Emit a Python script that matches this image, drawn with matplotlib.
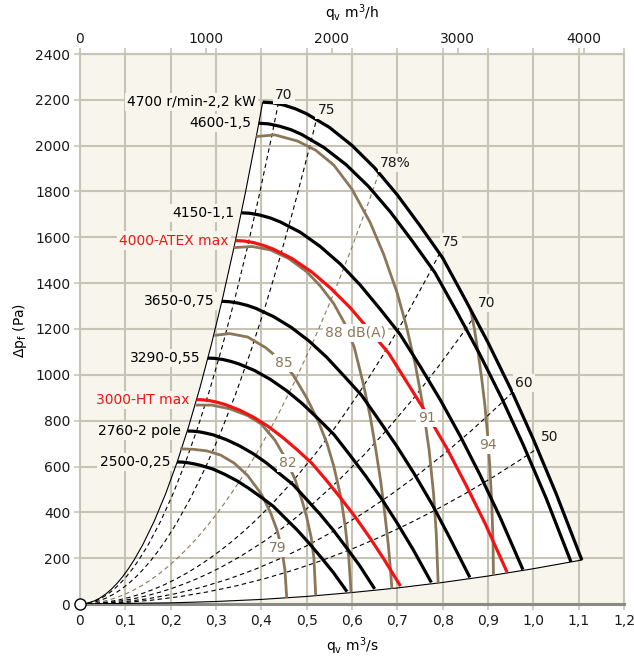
import matplotlib
matplotlib.use("Agg")
import matplotlib.pyplot as plt
from matplotlib.path import Path
from matplotlib.patches import PathPatch

plt.rcParams["font.family"] = ["DejaVu Sans"]
plt.rcParams["mathtext.default"] = "regular"

BG = "#f8f5ed"
GRID = "#c8c4b5"
BROWN = "#8b7758"
RED = "#f01414"

# ---- fan curves: q (m3/s), dp (Pa) ----
fan_names = ["4700 r/min-2,2 kW", "4600-1,5", "4150-1,1", "4000-ATEX max", "3650-0,75",
             "3290-0,55", "3000-HT max", "2760-2 pole", "2500-0,25"]
fan_red = [False, False, False, True, False, False, True, False, False]

q4700 = [0.403, 0.425, 0.45, 0.475, 0.50, 0.55, 0.60, 0.65, 0.70, 0.75, 0.80, 0.85, 0.90, 0.95, 1.00, 1.05, 1.107]
p4700 = [2190, 2187, 2177, 2161, 2139, 2080, 2001, 1903, 1785, 1651, 1510, 1328, 1141, 939, 719, 483, 192]
q4600 = [0.394, 0.416, 0.44, 0.465, 0.489, 0.538, 0.587, 0.636, 0.685, 0.734, 0.783, 0.832, 0.881, 0.93, 0.979, 1.028, 1.083]
p4600 = [2098, 2095, 2085, 2070, 2049, 1992, 1917, 1823, 1710, 1581, 1446, 1272, 1093, 899, 689, 463, 184]
q4150 = [0.356, 0.375, 0.397, 0.419, 0.441, 0.486, 0.530, 0.574, 0.618, 0.662, 0.706, 0.751, 0.795, 0.839, 0.883, 0.927, 0.977]
p4150 = [1707, 1705, 1697, 1685, 1668, 1622, 1560, 1484, 1392, 1287, 1177, 1035, 890, 732, 561, 377, 150]
q4000 = [0.343, 0.362, 0.383, 0.404, 0.426, 0.468, 0.511, 0.553, 0.596, 0.638, 0.681, 0.723, 0.766, 0.809, 0.851, 0.894, 0.942]
p4000 = [1586, 1584, 1577, 1565, 1549, 1507, 1449, 1378, 1293, 1196, 1094, 962, 826, 680, 521, 350, 139]
q3650 = [0.313, 0.330, 0.349, 0.369, 0.388, 0.427, 0.466, 0.505, 0.544, 0.582, 0.621, 0.660, 0.699, 0.738, 0.777, 0.815, 0.860]
p3650 = [1321, 1319, 1313, 1303, 1290, 1254, 1207, 1148, 1077, 996, 911, 801, 688, 566, 434, 291, 116]
q3290 = [0.282, 0.297, 0.315, 0.332, 0.35, 0.385, 0.42, 0.455, 0.49, 0.525, 0.56, 0.595, 0.63, 0.665, 0.7, 0.735, 0.775]
p3290 = [1073, 1072, 1067, 1059, 1048, 1019, 980, 932, 875, 809, 740, 651, 559, 460, 352, 237, 94]
q3000 = [0.257, 0.271, 0.287, 0.303, 0.319, 0.351, 0.383, 0.415, 0.447, 0.479, 0.511, 0.543, 0.574, 0.606, 0.638, 0.67, 0.707]
p3000 = [892, 891, 887, 880, 871, 847, 815, 775, 727, 673, 615, 541, 465, 383, 293, 197, 78]
q2760 = [0.237, 0.25, 0.264, 0.279, 0.294, 0.323, 0.352, 0.382, 0.411, 0.44, 0.47, 0.499, 0.529, 0.558, 0.587, 0.617, 0.65]
p2760 = [755, 754, 751, 745, 738, 717, 690, 656, 616, 569, 521, 458, 393, 324, 248, 167, 66]
q2500 = [0.214, 0.226, 0.239, 0.253, 0.266, 0.293, 0.319, 0.346, 0.372, 0.399, 0.426, 0.452, 0.479, 0.505, 0.532, 0.559, 0.589]
p2500 = [620, 619, 616, 611, 605, 589, 566, 538, 505, 467, 427, 376, 323, 266, 203, 137, 54]
fan_q = [q4700, q4600, q4150, q4000, q3650, q3290, q3000, q2760, q2500]
fan_p = [p4700, p4600, p4150, p4000, p3650, p3290, p3000, p2760, p2500]

# ---- sound level curves dB(A) ----
s79_q = [0.221, 0.25, 0.28, 0.31, 0.34, 0.37, 0.40, 0.42, 0.435, 0.445, 0.452, 0.456]
s79_p = [677, 675, 668, 650, 615, 560, 480, 400, 320, 240, 150, 27]
s82_q = [0.255, 0.29, 0.33, 0.37, 0.40, 0.43, 0.455, 0.475, 0.49, 0.50, 0.51, 0.516, 0.52]
s82_p = [868, 868, 852, 822, 785, 715, 630, 540, 450, 380, 290, 200, 37]
s85_q = [0.296, 0.33, 0.37, 0.41, 0.44, 0.47, 0.50, 0.525, 0.545, 0.56, 0.575, 0.585, 0.593, 0.598]
s85_p = [1172, 1180, 1165, 1118, 1068, 1000, 900, 800, 700, 600, 470, 340, 200, 50]
s88_q = [0.339, 0.38, 0.42, 0.46, 0.50, 0.53, 0.56, 0.585, 0.605, 0.625, 0.64, 0.652, 0.663, 0.672, 0.68, 0.685, 0.688]
s88_p = [1555, 1560, 1545, 1508, 1450, 1388, 1310, 1220, 1120, 960, 820, 680, 540, 400, 260, 150, 67]
s91_q = [0.389, 0.43, 0.48, 0.52, 0.56, 0.60, 0.64, 0.67, 0.70, 0.72, 0.74, 0.755, 0.77, 0.78, 0.786, 0.790]
s91_p = [2040, 2047, 2020, 1980, 1915, 1810, 1665, 1525, 1355, 1212, 1041, 880, 674, 479, 303, 91]
s94_q = [0.862, 0.870, 0.878, 0.886, 0.893, 0.899, 0.904, 0.908, 0.911, 0.912]
s94_p = [1283, 1200, 1100, 985, 870, 740, 600, 450, 280, 125]
snd_q = [s79_q, s82_q, s85_q, s88_q, s91_q, s94_q]
snd_p = [s79_p, s82_p, s85_p, s88_p, s91_p, s94_p]
snd_labels = ["79", "82", "85", "88 dB(A)", "91", "94"]
snd_lab_q = [0.435, 0.459, 0.450, 0.607, 0.765, 0.900]
snd_lab_p = [244, 615, 1052, 1183, 812, 694]

# ---- efficiency lines: parabolas from origin up to the 4700 curve ----
eff_labels = ["70", "75", "78%", "75", "70", "60", "50"]
eff_q_end = [0.437, 0.522, 0.661, 0.792, 0.870, 0.951, 1.006]
eff_p_end = [2180, 2118, 1890, 1525, 1255, 918, 675]
eff_lab_q = [0.450, 0.543, 0.695, 0.818, 0.898, 0.979, 1.037]
eff_lab_p = [2223, 2156, 1924, 1580, 1313, 964, 729]

# ---- working area limits ----
left_end = (0.403, 2190)
bot_q = [0, 0.2, 0.3, 0.4, 0.5, 0.6, 0.7, 0.8, 0.9, 1.0, 1.107]
bot_p = [0, 5, 11, 20, 33, 50, 70, 94, 122, 154, 192]

xticks = [i / 10 for i in range(13)]
yticks = list(range(0, 2401, 200))
top_ticks = [0, 1000, 2000, 3000, 4000]


def parabola(qe, pe):
    # quadratic bezier from origin = system curve dp ~ q^2
    return Path([(0, 0), (qe / 2, 0), (qe, pe)], [Path.MOVETO, Path.CURVE3, Path.CURVE3])


fig = plt.figure(figsize=(6.34, 6.59), dpi=100)
ax = fig.add_axes([80 / 634, 55 / 659, 544 / 634, 550 / 659])
ax.set_facecolor(BG)
ax.set_xlim(0, 1.2)
ax.set_ylim(0, 2400)

# white working area
verts = [(0, 0), (left_end[0] / 2, 0), left_end]
codes = [Path.MOVETO, Path.CURVE3, Path.CURVE3]
for q, p in zip(q4700[1:], p4700[1:]):
    verts.append((q, p)); codes.append(Path.LINETO)
for q, p in zip(bot_q[::-1], bot_p[::-1]):
    verts.append((q, p)); codes.append(Path.LINETO)
ax.add_patch(PathPatch(Path(verts, codes), fc="white", ec="none", zorder=1))

ax.set_xticks(xticks)
ax.set_xticklabels([("%.1f" % v).replace(".", ",") if v else "0" for v in xticks])
ax.set_yticks(yticks)
ax.grid(True, color=GRID, lw=1.5)
ax.set_axisbelow("line")
ax.tick_params(length=4, width=1.2, color=GRID, labelsize=10, pad=3, labelcolor="#1a1a1a")
ax.tick_params(axis="x", top=True)
for s in ["left", "right", "top"]:
    ax.spines[s].set_color(GRID)
    ax.spines[s].set_linewidth(1.5)
ax.spines["bottom"].set_color("#8a8a86")
ax.spines["bottom"].set_linewidth(2.2)

sec = ax.secondary_xaxis("top", functions=(lambda q: q * 3600, lambda v: v / 3600))
sec.set_xticks(top_ticks)
sec.tick_params(length=4, width=1.2, color=GRID, labelsize=10, pad=2, labelcolor="#1a1a1a")
sec.spines["top"].set_color(GRID)
sec.spines["top"].set_linewidth(1.5)

# limits of working area
ax.add_patch(PathPatch(parabola(*left_end), fill=False, ec="black", lw=0.8, zorder=3))
ax.plot(bot_q, bot_p, color="black", lw=0.8, zorder=3)

# efficiency lines
for i, (qe, pe) in enumerate(zip(eff_q_end, eff_p_end)):
    col = BROWN if eff_labels[i] == "78%" else "black"
    ax.add_patch(PathPatch(parabola(qe, pe), fill=False, ec=col, lw=0.8,
                           ls=(0, (4, 3)), zorder=3))
    ax.text(eff_lab_q[i], eff_lab_p[i], eff_labels[i], fontsize=10, ha="center", va="center",
            color="#1a1a1a", zorder=6,
            bbox=dict(boxstyle="square,pad=0.15", fc=BG, ec="none"))

# sound curves
for q, p in zip(snd_q, snd_p):
    ax.plot(q, p, color=BROWN, lw=2.0, zorder=4, solid_capstyle="butt")
for lab, lq, lp in zip(snd_labels, snd_lab_q, snd_lab_p):
    ax.text(lq, lp, lab, fontsize=10, ha="center", va="center", color=BROWN, zorder=6,
            bbox=dict(boxstyle="square,pad=0.15", fc="white", ec="none"))

# fan curves
for name, red, q, p in zip(fan_names, fan_red, fan_q, fan_p):
    col = RED if red else "black"
    ax.plot(q, p, color=col, lw=2.3, zorder=5, solid_capstyle="butt")
    ax.annotate(name, (q[0], p[0]), xytext=(-5, 0), textcoords="offset points",
                ha="right", va="center", fontsize=10, color=col, zorder=6,
                bbox=dict(boxstyle="square,pad=0.15", fc=BG, ec="none"))

ax.plot([0], [0], "o", ms=8, mfc="white", mec="black", mew=1.0, clip_on=False, zorder=7)

fig.text(352 / 634, 1 - 13 / 659, "q$_v$ m$^3$/h", ha="center", va="center", fontsize=10)
fig.text(352 / 634, 1 - 646 / 659, "q$_v$ m$^3$/s", ha="center", va="center", fontsize=10)
fig.text(20 / 634, 1 - 330 / 659, "Δp$_f$ (Pa)", ha="center", va="center", fontsize=10,
         rotation=90)

fig.savefig("out.png", dpi=100)
